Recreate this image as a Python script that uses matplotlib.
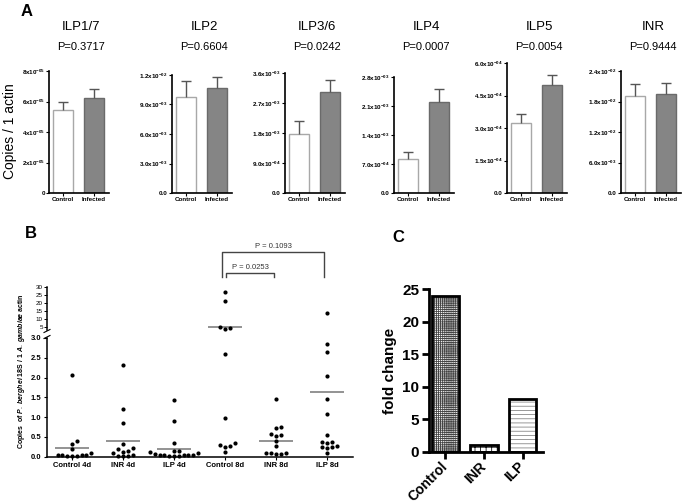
import matplotlib
matplotlib.use('Agg')
import matplotlib.pyplot as plt
import numpy as np
from matplotlib.transforms import blended_transform_factory

plt.rcParams['font.family'] = ['Liberation Sans', 'DejaVu Sans']
plt.rcParams['mathtext.fontset'] = 'custom'
plt.rcParams['mathtext.rm'] = 'Liberation Sans'
plt.rcParams['mathtext.it'] = 'Liberation Sans:italic:bold'
plt.rcParams['mathtext.bf'] = 'Liberation Sans:bold'
plt.rcParams['hatch.linewidth'] = 0.6

# ------------------------------------------------------------------ data
# Panel A
genes = ['ILP1/7', 'ILP2', 'ILP3/6', 'ILP4', 'ILP5', 'INR']
p_values = ['P=0.3717', 'P=0.6604', 'P=0.0242', 'P=0.0007', 'P=0.0054', 'P=0.9444']
groups_a = ['Control', 'Infected']
control_mean = [5.45e-5, 9.75e-3, 1.76e-3, 0.82e-3, 3.23e-4, 1.91e-2]
control_sem = [0.55e-5, 1.65e-3, 0.39e-3, 0.17e-3, 0.41e-4, 0.23e-2]
infected_mean = [6.20e-5, 1.07e-2, 3.03e-3, 2.20e-3, 4.98e-4, 1.95e-2]
infected_sem = [0.65e-5, 1.10e-3, 0.37e-3, 0.31e-3, 0.46e-4, 0.21e-2]
ytick_max = [8e-5, 1.2e-2, 3.6e-3, 2.8e-3, 6e-4, 2.4e-2]
ytick_step = [2e-5, 3e-3, 9e-4, 7e-4, 1.5e-4, 6e-3]
ytick_decimals = [0, 1, 1, 1, 1, 1]

# Panel B
b_categories = ['Control 4d', 'INR 4d', 'ILP 4d', 'Control 8d', 'INR 8d', 'ILP 8d']
ctrl_4d = [2.07, 0.38, 0.32, 0.19, 0.08, 0.05, 0.04, 0.03, 0.02, 0.02, 0.03, 0.01]
inr_4d = [2.31, 1.21, 0.84, 0.31, 0.21, 0.18, 0.14, 0.12, 0.08, 0.05, 0.02, 0.01, 0.01]
ilp_4d = [1.44, 0.91, 0.35, 0.15, 0.13, 0.12, 0.08, 0.06, 0.05, 0.04, 0.04, 0.03,
          0.03, 0.02, 0.02, 0.02]
ctrl_8d = [26.9, 20.9, 4.6, 4.2, 3.4, 2.59, 0.98, 0.33, 0.30, 0.26, 0.25, 0.12]
inr_8d = [1.45, 0.75, 0.73, 0.55, 0.52, 0.56, 0.40, 0.27, 0.10, 0.07, 0.06, 0.08, 0.09]
ilp_8d = [13.4, 2.86, 2.65, 2.04, 1.46, 1.07, 0.54, 0.37, 0.33, 0.36, 0.25, 0.22,
          0.24, 0.26, 0.08]
b_series = [ctrl_4d, inr_4d, ilp_4d, ctrl_8d, inr_8d, ilp_8d]
b_means = [0.22, 0.40, 0.20, 5.0, 0.40, 1.64]
b_brackets = [(3, 5, 'P = 0.1093'), (3, 4, 'P = 0.0253')]

# Panel C
c_categories = ['Control', 'INR', 'ILP']
c_values = [23.9, 1.0, 8.1]

# ------------------------------------------------------------------ figure
W, H = 686, 504
fig = plt.figure(figsize=(6.86, 5.04), dpi=100)


def ax_px(l, t, r, b):
    return fig.add_axes([l / W, 1 - b / H, (r - l) / W, (b - t) / H])


def ftext(x, y, s, **kw):
    return fig.text(x / W, 1 - y / H, s, **kw)


def sci(v, nd):
    if v == 0:
        return '0' if nd == 0 else '0.0'
    e = int(np.floor(np.log10(v) + 1e-9))
    m = v / 10 ** e
    ms = f'{m:.{nd}f}'
    return r'$\mathbf{' + ms + r'x10^{-' + f'{-e:02d}' + r'}}$'


# ------------------------------------------------------------------ panel A
a_left = [49, 172, 285, 394, 507, 621]
a_top = [71, 75, 73, 77, 63, 71]
a_width = 60
a_bottom = 193
for i in range(len(genes)):
    ax = ax_px(a_left[i], a_top[i], a_left[i] + a_width, a_bottom)
    ax.bar(0, control_mean[i], width=0.66, color='white', edgecolor='#a8a8a8', lw=1.0, zorder=2)
    ax.bar(1, infected_mean[i], width=0.66, color='#858585', edgecolor='#6a6a6a', lw=1.0, zorder=2)
    for x, m, s in [(0, control_mean[i], control_sem[i]), (1, infected_mean[i], infected_sem[i])]:
        ax.vlines(x, m, m + s, color='#555555', lw=1.0, zorder=3)
        ax.hlines(m + s, x - 0.16, x + 0.16, color='#555555', lw=1.0, zorder=3)
    ax.set_xlim(-0.45, 1.48)
    ax.set_ylim(0, ytick_max[i])
    ticks = np.arange(0, ytick_max[i] + ytick_step[i] / 2, ytick_step[i])
    ax.set_yticks(ticks)
    ax.set_yticklabels([sci(t, ytick_decimals[i]) if j > 0 else sci(0, ytick_decimals[i])
                        for j, t in enumerate(ticks)], fontsize=4.5, fontweight='bold')
    ax.set_xticks([0, 1])
    ax.set_xticklabels(groups_a, fontsize=4.5, fontweight='bold')
    ax.tick_params(axis='both', length=2, width=0.8, pad=1)
    for sp in ['top', 'right']:
        ax.spines[sp].set_visible(False)
    for sp in ['left', 'bottom']:
        ax.spines[sp].set_linewidth(1.2)
    cx = a_left[i] + a_width / 2
    ftext(cx + 2, 27, genes[i], fontsize=9.5, ha='center', va='center')
    ftext(cx + 2, 47, p_values[i], fontsize=8, ha='center', va='center')

ftext(10, 131, 'Copies / 1 actin', fontsize=10, rotation=90, ha='center', va='center')
ftext(27, 12, 'A', fontsize=12, fontweight='bold', ha='center', va='center')

# ------------------------------------------------------------------ panel B
B_L, B_R = 47, 353
LOW_T, LOW_B = 338, 456.5
UP_T, UP_B = 286.7, 330
up_lo, up_hi = 3, 30
x_unit = 51.0
xl = (-25 / x_unit, 5 + 26 / x_unit)

ax_lo = ax_px(B_L, LOW_T, B_R, LOW_B)
ax_up = ax_px(B_L, UP_T, B_R, UP_B)
ax_lo.set_xlim(*xl)
ax_up.set_xlim(*xl)
ax_lo.set_ylim(0, 3)
ax_up.set_ylim(up_lo, up_hi)

lo_scale = (LOW_B - LOW_T) / 3.0
up_scale = (UP_B - UP_T) / (up_hi - up_lo)


def ypix(v):
    if v <= 3:
        return v * lo_scale
    return 3 * lo_scale + 8 + (v - up_lo) * up_scale


def swarm(vals, d=4.8):
    ys = [ypix(v) for v in vals]
    order = np.argsort(ys)
    placed = []
    offs = np.zeros(len(vals))
    for i in order:
        y = ys[i]
        xx = 0.0
        for k in [0, 1, -1, 2, -2, 3, -3, 4, -4, 5, -5, 6, -6]:
            xx = k * d
            if all((xx - px) ** 2 + (y - py) ** 2 >= (d * 0.9) ** 2 for px, py in placed):
                break
        offs[i] = xx
        placed.append((xx, y))
    return offs / x_unit


for ci, vals in enumerate(b_series):
    vals = np.array(vals)
    offs = swarm(vals)
    lo = vals <= 3
    ax_lo.scatter(ci + offs[lo], vals[lo], s=9, color='black', zorder=3, clip_on=False, lw=0)
    ax_up.scatter(ci + offs[~lo], vals[~lo], s=9, color='black', zorder=3, clip_on=False, lw=0)
    target = ax_lo if b_means[ci] <= 3 else ax_up
    target.hlines(b_means[ci], ci - 0.33, ci + 0.33, color='#8a8a8a', lw=1.3, zorder=2)

ax_lo.set_yticks(np.arange(0, 3.01, 0.5))
ax_lo.set_yticklabels([f'{t:.1f}' for t in np.arange(0, 3.01, 0.5)], fontsize=5.5, fontweight='bold')
ax_lo.set_xticks(range(len(b_categories)))
ax_lo.set_xticklabels(b_categories, fontsize=5.5, fontweight='bold')
ax_lo.tick_params(axis='both', length=2.5, width=0.8, pad=1.5)
ax_up.set_yticks(np.arange(5, 31, 5))
ax_up.set_yticklabels([str(t) for t in range(5, 31, 5)], fontsize=4.5)
ax_up.tick_params(axis='y', length=2, width=0.7, pad=1)
ax_up.set_xticks([])
for a in (ax_lo, ax_up):
    for sp in ['top', 'right']:
        a.spines[sp].set_visible(False)
    a.spines['left'].set_linewidth(1.1)
ax_up.spines['bottom'].set_visible(False)
ax_lo.spines['bottom'].set_linewidth(1.1)
ax_up.patch.set_alpha(0)

# break marks
for yb in (UP_B + 1, LOW_T - 1):
    fig.add_artist(plt.Line2D([(B_L - 3) / W, (B_L + 3) / W],
                              [1 - (yb + 1.5) / H, 1 - (yb - 1.5) / H],
                              color='black', lw=0.8))

# significance brackets
tr = blended_transform_factory(ax_up.transData, ax_up.transAxes)


def yfrac(ypx):
    return (UP_B - ypx) / (UP_B - UP_T)


bracket_geo = [(251.7, 277, -3 / x_unit, -3 / x_unit, 246.7),
               (272.7, 277, 1 / x_unit, -2 / x_unit, 267.3)]
for (c0, c1, lab), (ytop, ybot, dl, dr, ytxt) in zip(b_brackets, bracket_geo):
    x0, x1 = c0 + dl, c1 + dr
    ax_up.plot([x0, x0, x1, x1], [yfrac(ybot), yfrac(ytop), yfrac(ytop), yfrac(ybot)],
               transform=tr, color='#444444', lw=1.0, clip_on=False)
    ax_up.text((x0 + x1) / 2, yfrac(ytxt), lab, transform=tr, fontsize=5.5,
               ha='center', va='center', color='#333333')

ftext(22, 371, r'Copies  of $P.\ berghei$ 18S / 1 $A.\ gambiae$ actin',
      fontsize=5, fontweight='bold', rotation=90, ha='center', va='center')
ftext(31, 234, 'B', fontsize=12, fontweight='bold', ha='center', va='center')

# ------------------------------------------------------------------ panel C
ax_c = ax_px(429, 289.3, 543, 451.7)
c_hatches = ['++++++++', '+++', '----']
c_hatch_colors = ['#444444', '#111111', '#888888']
xs = np.arange(len(c_categories))
for x, v, h, hc in zip(xs, c_values, c_hatches, c_hatch_colors):
    ax_c.bar(x, v, width=0.7, color='white', edgecolor=hc, hatch=h, lw=0, zorder=2)
    ax_c.bar(x, v, width=0.7, fill=False, edgecolor='black', lw=2, zorder=3)
ax_c.set_xlim(-0.42, 2.52)
ax_c.set_ylim(0, 25)
ax_c.set_yticks(range(0, 26, 5))
ax_c.set_yticklabels([str(t) for t in range(0, 26, 5)], fontsize=11, fontweight='bold')
ax_c.set_xticks(xs)
ax_c.set_xticklabels(c_categories, rotation=45, ha='right', va='center',
                     rotation_mode='anchor', fontsize=10, fontweight='bold')
ax_c.tick_params(axis='both', length=5, width=2, pad=2)
ax_c.tick_params(axis='x', pad=4)
for sp in ['top', 'right']:
    ax_c.spines[sp].set_visible(False)
for sp in ['left', 'bottom']:
    ax_c.spines[sp].set_linewidth(2)
ax_c.set_ylabel('fold change', fontsize=11, fontweight='bold', labelpad=4)
ftext(398, 238, 'C', fontsize=12, fontweight='bold', ha='center', va='center')

fig.savefig('out.png', dpi=100)
